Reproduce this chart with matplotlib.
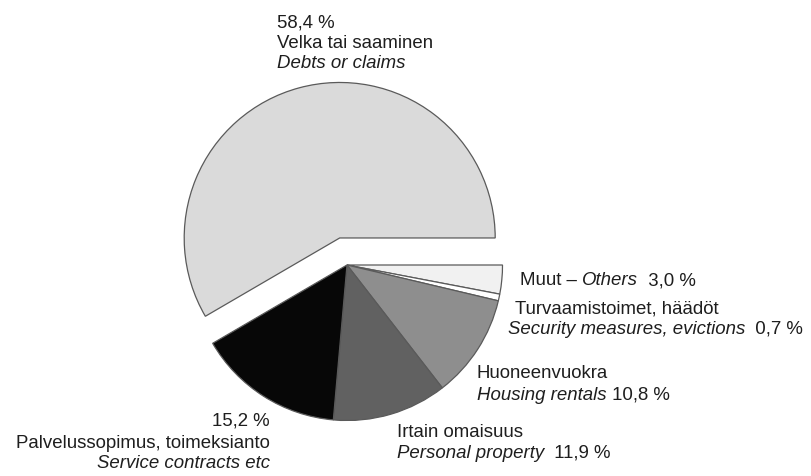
import matplotlib
matplotlib.use("Agg")
import matplotlib.pyplot as plt
from matplotlib import font_manager

# ---- data ----
categories = ["Muut", "Turvaamistoimet, häädöt", "Huoneenvuokra",
              "Irtain omaisuus", "Palvelussopimus, toimeksianto",
              "Velka tai saaminen"]
values = [3.0, 0.7, 10.8, 11.9, 15.2, 58.4]
colors = ["#f1f1f1", "#ffffff", "#8e8e8e", "#616161", "#070707", "#dadada"]
explode = [0, 0, 0, 0, 0, 28]

W, H = 811, 476
names = {f.name for f in font_manager.fontManager.ttflist}
if "Liberation Sans Narrow" in names:
    FAM = ["Liberation Sans Narrow", "DejaVu Sans"]
    FS = 14.2
else:
    FAM = ["Liberation Sans", "DejaVu Sans"]
    FS = 13.4
plt.rcParams["font.family"] = FAM

fig = plt.figure(figsize=(W / 100, H / 100), dpi=100)
ax = fig.add_axes([0, 0, 1, 1])

cx, cy, r = 347, H - 265, 155.5
ax.pie(values, colors=colors, explode=explode, startangle=0,
       counterclock=False, radius=r, center=(cx, cy), frame=True,
       wedgeprops=dict(edgecolor="#5a5a5a", linewidth=0.9))
ax.set_xlim(0, W)
ax.set_ylim(0, H)
ax.set_aspect("equal")
ax.axis("off")

TC = "#1e1e1e"
fig.canvas.draw()
renderer = fig.canvas.get_renderer()


def run(x, y, pieces, ha="left"):
    """Place a sequence of (text, style) pieces on one baseline."""
    objs = []
    for s, st in pieces:
        objs.append(ax.text(0, H - y, s, ha="left", va="baseline",
                            fontsize=FS, color=TC, style=st))
    widths = [o.get_window_extent(renderer).width for o in objs]
    total = sum(widths)
    x0 = x if ha == "left" else x - total
    for o, w in zip(objs, widths):
        o.set_x(x0)
        x0 += w


def pct(v):
    return f"{v:.1f}".replace(".", ",") + " %"

N, I = "normal", "italic"

# Velka
run(277, 28, [(pct(values[5]), N)])
run(277, 48, [("Velka tai saaminen", N)])
run(277, 68, [("Debts or claims", I)])

# Muut
run(520, 285, [("Muut – ", N), ("Others", I), ("  " + pct(values[0]), N)])

# Turvaamistoimet
run(515, 313, [("Turvaamistoimet, häädöt", N)])
run(508, 334, [("Security measures, evictions", I),
               ("  " + pct(values[1]), N)])

# Huoneenvuokra
run(477, 378, [("Huoneenvuokra", N)])
run(477, 400, [("Housing rentals", I), (" " + pct(values[2]), N)])

# Irtain
run(397, 437, [("Irtain omaisuus", N)])
run(397, 458, [("Personal property", I), ("  " + pct(values[3]), N)])

# Palvelus
run(270, 426, [(pct(values[4]), N)], ha="right")
run(270, 448, [("Palvelussopimus, toimeksianto", N)], ha="right")
run(270, 468, [("Service contracts etc", I)], ha="right")

fig.savefig("out.png", dpi=100)
